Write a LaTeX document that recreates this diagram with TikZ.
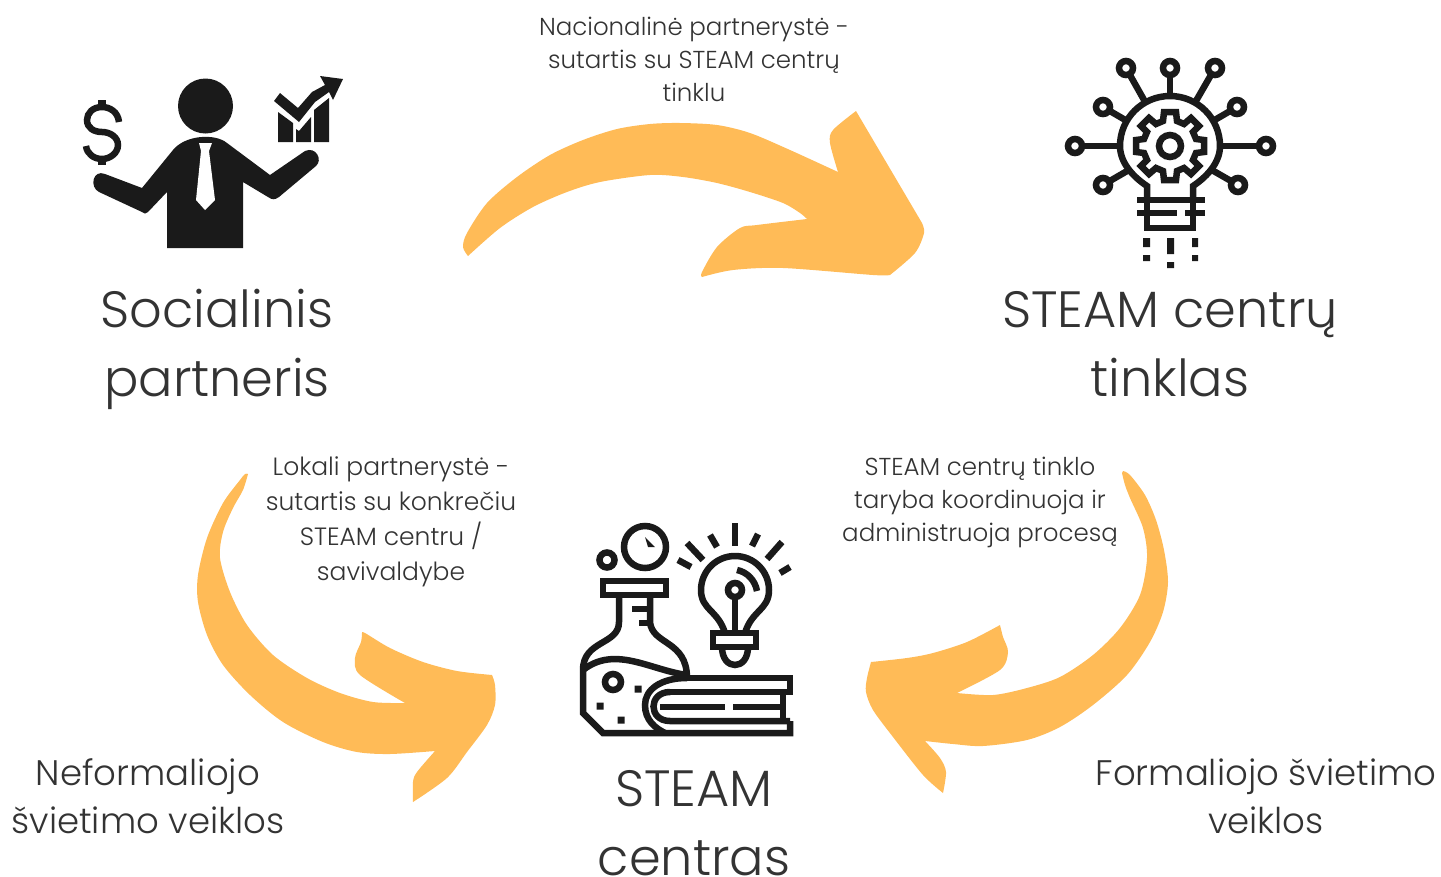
\documentclass[tikz,border=0pt]{standalone}
\usepackage{fontspec}
\setmainfont{Poppins Light}
\definecolor{arrowyellow}{HTML}{FFBB57}
\definecolor{icondark}{HTML}{1A1A1A}
\definecolor{textdark}{HTML}{333333}
\tikzset{
  bigtext/.style={text=textdark,align=center,font=\fontsize{51}{69}\selectfont},
  midtext/.style={text=textdark,align=center,font=\fontsize{35.5}{48}\selectfont},
  smalltext/.style={text=textdark,align=center,font=\fontsize{24.5}{33}\selectfont},
  iconline/.style={draw=icondark,line width=6.5pt},
}
\begin{document}
\begin{tikzpicture}[x=1pt,y=-1pt]
\useasboundingbox (0,0) rectangle (1441,876);

\fill[arrowyellow] plot[smooth] coordinates {(468,256) (463,247) (467,233) (487,203) (517,177) (550,155) (583,140) (617,129) (650,124) (680,123) (717,125) (750,133) (790,150) (838,172)}
  -- plot[smooth] coordinates {(838,172) (830,143) (833,130) (856,111)}
  -- (922,223)
  -- plot[smooth] coordinates {(922,223) (924,233) (915,253) (890,275)}
  -- plot[smooth] coordinates {(890,275) (873,275) (783,268) (733,270) (702,277)}
  -- plot[smooth] coordinates {(702,277) (702,272) (717,247) (740,228) (757,225) (807,219)}
  -- plot[smooth] coordinates {(807,219) (800,213) (783,203) (750,192) (717,183) (683,177) (650,175) (600,182) (567,192) (533,207) (500,228) (468,256)}
  -- cycle;

\fill[arrowyellow] plot[smooth] coordinates {(248,474) (245,474) (240,480) (223,503) (207,538) (198,575) (198,602) (207,635) (223,665) (250,695) (283,722) (323,742) (357,752) (390,754) (435,751)}
  -- plot[smooth] coordinates {(435,751) (417,772) (413,782) (413,802)}
  -- plot[smooth] coordinates {(413,802) (447,778) (467,752) (487,725) (495,705) (495,685) (492,675)}
  -- plot[smooth] coordinates {(492,675) (457,671) (423,662) (390,648) (365,633) (362,633)}
  -- plot[smooth] coordinates {(362,633) (361,642) (355,658) (360,675) (405,703)}
  -- plot[smooth] coordinates {(405,703) (373,702) (340,693) (307,678) (273,655) (247,625) (230,592) (220,558) (223,532) (233,508) (243,490) (248,474)}
  -- cycle;

\fill[arrowyellow] plot[smooth] coordinates {(1123,471) (1130,475) (1145,495) (1156,520) (1164,550) (1168,582) (1163,612) (1150,642) (1127,675) (1093,705) (1060,727) (1027,740) (983,746) (953,744) (925,741)}
  -- plot[smooth] coordinates {(925,741) (940,758) (946,772) (943,793)}
  -- plot[smooth] coordinates {(943,793) (923,775) (893,737) (873,710) (866,692) (867,678) (871,662)}
  -- plot[smooth] coordinates {(871,662) (907,658) (933,653) (967,642) (1000,625)}
  -- plot[smooth] coordinates {(1000,625) (1003,637) (1008,652) (1000,670) (957,693)}
  -- plot[smooth] coordinates {(957,693) (993,695) (1027,688) (1060,677) (1093,655) (1120,628) (1140,595) (1147,558) (1143,528) (1130,498) (1125,485) (1122,473)}
  -- cycle;

\node[bigtext] (social) at (217,349) {Socialinis\\partneris};
\node[bigtext] (tinklas) at (1170,344) {STEAM centrų\\tinklas};
\node[bigtext] (centras) at (694,823) {STEAM\\centras};
\node[midtext] (neform) at (148,796) {Neformaliojo\\švietimo veiklos};
\node[midtext] (form) at (1266,796) {Formaliojo švietimo\\veiklos};
\node[smalltext] (nacional) at (694,59) {Nacionalinė partnerystė -\\sutartis su STEAM centrų\\tinklu};
\node[smalltext,font=\fontsize{25}{35}\selectfont] (lokali) at (391,522) {Lokali partnerystė -\\sutartis su konkrečiu\\STEAM centru /\\savivaldybe};
\node[smalltext] (taryba) at (980,502) {STEAM centrų tinklo\\taryba koordinuoja ir\\administruoja procesą};

\begin{scope}
\fill[icondark] (205.5,106) circle (27.5);
\fill[icondark] (167,248) -- (167,192) -- (148,212) .. controls (146,214) and (144,214) .. (142,212)
  -- (99,192) .. controls (89,187) and (93,169) .. (105,174) -- (142,188)
  -- (173,150) .. controls (185,135) and (215,133) .. (227,143) -- (270,175)
  -- (305,151) .. controls (316,146) and (323,160) .. (316,166) -- (279,197)
  .. controls (275,200) and (272,200) .. (268,197) -- (243,182) -- (243,248) -- cycle;
\fill[white] (199,143) -- (212,143) -- (209,151) -- (215,200) -- (205,210) -- (196,200) -- (201,151) -- cycle;
\fill[icondark] (278,112) -- (278,142) -- (293,142) -- (293,123) -- cycle
  (296,142) -- (311,142) -- (311,117) -- (299,131) -- (296,129) -- cycle
  (314,142) -- (329,142) -- (329,98) -- (314,110) -- cycle;
\fill[icondark] (274,101) -- (280,93) -- (298,108) -- (312,92) -- (325,85) -- (320,76) -- (343,79) -- (333,100) -- (329,92)
  -- (315,102) -- (299,122) -- cycle;
\draw[icondark,line width=6.5pt] (119,122) .. controls (118,112) and (110,107) .. (102,107) .. controls (93,107) and (87,113) .. (87,120)
  .. controls (87,128) and (94,132) .. (102,132) .. controls (110,132) and (118,137) .. (118,145)
  .. controls (118,153) and (110,159) .. (102,159) .. controls (94,159) and (87,154) .. (86,146);
\draw[icondark,line width=8pt] (102,100) -- (102,106) (102,159) -- (102,165);
\end{scope}

\begin{scope}[shift={(1170,146)}]
\draw[iconline] (0,0) circle (11);
\draw[iconline] (-6,-34) -- (6,-34) -- (7,-25) -- (14,-22) -- (21,-28) -- (29,-20) -- (23,-14) -- (26,-7) -- (34,-6)
  -- (34,6) -- (26,7) -- (23,14) -- (29,20) -- (21,28) -- (14,22) -- (7,25) -- (6,34) -- (-6,34)
  -- (-7,25) -- (-14,22) -- (-21,28) -- (-29,20) -- (-23,14) -- (-26,7) -- (-34,6)
  -- (-34,-6) -- (-26,-7) -- (-23,-14) -- (-29,-20) -- (-21,-28) -- (-14,-22) -- (-7,-25) -- cycle;
\draw[iconline] (-23,54) -- (-23,40) .. controls (-35,32) and (-50,18) .. (-50,0)
  arc[start angle=180,end angle=360,radius=50] .. controls (50,18) and (35,32) .. (23,40) -- (23,54);
\draw[iconline] (-23,54) -- (-23,82) -- (23,82) -- (23,54);
\draw[iconline] (-33,54) -- (35,54);
\draw[iconline] (-33,67) -- (7,67) (15,67) -- (35,67);
\foreach \x/\y/\f in {-44/-78/.56,0/-78/.64,45/-78/.56,-67/-39/.64,67/-39/.64,-95/0/.52,96/0/.52,-67/39/.64,68/39/.64} {
  \draw[iconline] (\f*\x,\f*\y) -- (\x,\y);
  \fill[white,draw=icondark,line width=6.5pt] (\x,\y) circle (7);
}
\fill[icondark] (-27,92) rectangle (-20,101) (-3,92) rectangle (4,108) (22,92) rectangle (28,101)
  (-27,109) rectangle (-20,115) (22,109) rectangle (28,115) (-3,116) rectangle (4,122);
\end{scope}

\begin{scope}[shift={(570,510)}]
\draw[iconline] (75,37) circle (21);
\fill[icondark] (75,27) -- (85,37) -- (78,37) -- cycle;
\draw[iconline] (37,50) circle (7.5);
\draw[iconline] (33,71) rectangle (96,85);
\draw[iconline] (49,85) -- (49,112) .. controls (49,135) and (13,130) .. (13,160)
  -- (13,203) -- (33,223) -- (220,223) -- (220,211);
\draw[iconline] (80,85) -- (80,112) .. controls (82,135) and (117,130) .. (117,168);
\draw[iconline] (117,168) -- (220,168) -- (220,182) -- (100,182);
\draw[iconline] (13,160) .. controls (45,135) and (80,160) .. (117,165);
\draw[iconline] (62,99) -- (80,99) (69,113) -- (80,113);
\draw[iconline] (43,172) circle (8);
\fill[icondark] (64.5,175.5) rectangle (71.5,182.5) (26.5,192.5) rectangle (33.5,199.5) (47.5,206.5) rectangle (54.5,213.5);
\draw[iconline] (117,168) .. controls (90,168) and (75,180) .. (75,195) .. controls (75,210) and (85,218) .. (95,223);
\draw[iconline] (100,182) .. controls (78,182) and (78,211) .. (100,211) -- (220,211);
\draw[iconline] (213,182) -- (213,211);
\draw[iconline] (90,197) -- (155,197) (163,197) -- (213,197);
\draw[iconline] (155,123) .. controls (148,100) and (131,100) .. (131,80)
  arc[start angle=180,end angle=360,radius=34] .. controls (199,100) and (182,100) .. (175,123);
\draw[iconline] (143,123) rectangle (186,137);
\draw[iconline] (152,137) .. controls (152,161) and (178,161) .. (178,137);
\draw[iconline] (165,123) -- (165,87);
\draw[iconline] (165,80) circle (7);
\draw[iconline] (167,60) .. controls (177,62) and (185,70) .. (187,81);
\draw[iconline] (165,13) -- (165,36);
\draw[iconline] (117,33) -- (133,50) (212,32) -- (197,49);
\draw[iconline] (140,25) -- (147,37) (188,24) -- (182,36);
\draw[iconline] (108,50) -- (121,57) (220,57) -- (210,63);
\end{scope}

\end{tikzpicture}
\end{document}
